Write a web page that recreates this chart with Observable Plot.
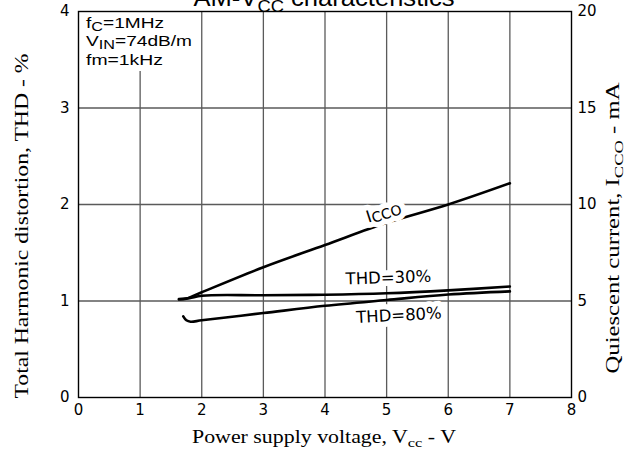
<!DOCTYPE html>
<html><head><meta charset="utf-8">
<script src="https://cdn.jsdelivr.net/npm/d3@7"></script>
<script src="https://cdn.jsdelivr.net/npm/@observablehq/plot@0.6"></script>
<style>html,body{margin:0;padding:0;background:#fff} svg{display:block}</style>
</head><body><div id="chart"></div>
<script>
const title = "AM-V_{CC} characteristics";
const xLabel = "Power supply voltage, V_{cc} - V";
const yLabelLeft = "Total Harmonic distortion, THD - %";
const yLabelRight = "Quiescent current, I_{CCO} - mA";
const notes = ["f_{C}=1MHz", "V_{IN}=74dB/m", "fm=1kHz"];
const xTicks = [0,1,2,3,4,5,6,7,8];
const yTicks = [0,1,2,3,4];
const rightTicks = [0,5,10,15,20];

// ICCO curve (mA, right axis)
const iccoV  = [1.63,1.75,1.85,2.0,3,4,5,6,7];
const iccoMA = [5.08,5.12,5.25,5.45,6.75,7.9,9.05,10.0,11.1];
// THD = 30% curve (%, left axis)
const thd30V = [1.63,1.8,2.0,3,4,5,6,7];
const thd30  = [1.02,1.03,1.055,1.06,1.065,1.08,1.11,1.15];
// THD = 80% curve (%, left axis)
const thd80V = [1.7,1.75,1.82,2.0,3,4,5,6,7];
const thd80  = [0.84,0.8,0.785,0.8,0.875,0.95,1.01,1.067,1.10];

const labelText = ["I_{CCO}","THD=30%","THD=80%"];
const labelX = [4.95,5.03,5.2];
const labelY = [1.92,1.24,0.85];
const labelRot = [-18,-2,-3];

const ratio = rightTicks[rightTicks.length-1] / yTicks[yTicks.length-1];
const icco = iccoV.map((v,i)=>({v, y: iccoMA[i]/ratio}));
const c30 = thd30V.map((v,i)=>({v, y: thd30[i]}));
const c80 = thd80V.map((v,i)=>({v, y: thd80[i]}));
const labels = labelText.map((t,i)=>({t, x: labelX[i], y: labelY[i], r: labelRot[i]}));

const gridStyle = {stroke:"#5a5a5a", strokeOpacity:1, strokeWidth:1.3};
const lineStyle = {x:"v", y:"y", curve:"catmull-rom", stroke:"#000", strokeWidth:2.6};
const labelStyle = {x:"x", y:"y", text:"t", rotate:"r", fontSize:16.5};

const plot = Plot.plot({
  width:630, height:452,
  marginLeft:78, marginRight:59, marginTop:11, marginBottom:55,
  x:{domain:[xTicks[0], xTicks[xTicks.length-1]]},
  y:{domain:[yTicks[0], yTicks[yTicks.length-1]]},
  style:{fontFamily:"'DejaVu Sans', sans-serif", fontSize:"15px", color:"#000", background:"#fff", overflow:"visible"},
  marks:[
    Plot.gridX(xTicks.slice(1,-1), gridStyle),
    Plot.gridY(yTicks.slice(1,-1), gridStyle),
    Plot.axisX(xTicks, {tickSize:0, tickPadding:7, label:null, fontSize:15, tickFormat: d => String(d)}),
    Plot.axisY(yTicks, {anchor:"left", tickSize:0, tickPadding:9, label:null, fontSize:15, tickFormat: d => String(d)}),
    Plot.axisY(yTicks, {anchor:"right", tickSize:0, tickPadding:6, label:null, fontSize:15,
      tickFormat: d => String(rightTicks[yTicks.indexOf(d)])}),
    Plot.line(icco, lineStyle),
    Plot.line(c30, lineStyle),
    Plot.line(c80, lineStyle),
    Plot.text(labels, {...labelStyle, fill:"#fff", stroke:"#fff", strokeWidth:11}),
    Plot.text(labels, {...labelStyle, fill:"#000"})
  ]
});
document.getElementById("chart").appendChild(plot);
const svg = d3.select(plot);

function rich(sel, str, subScale, shift) {
  sel.text(null);
  const parts = str.split(/(_\{[^}]*\})/).filter(p => p);
  let shifted = 0;
  parts.forEach(p => {
    if (p.startsWith("_{")) {
      sel.append("tspan").attr("font-size", subScale + "em").attr("dy", shift - shifted).text(p.slice(2,-1));
      shifted = shift;
    } else {
      const ts = sel.append("tspan").text(p);
      if (shifted) { ts.attr("dy", -shifted); shifted = 0; }
    }
  });
}

// Rich text for curve labels
svg.selectAll("text").each(function() {
  const s = this.textContent;
  if (s.includes("_{")) rich(d3.select(this), s, 0.85, 2);
});

// Notes (halo layer, then text layer)
const noteY = [28, 46, 65], noteW = [78, 106, 77];
["halo","text"].forEach(layer => {
  notes.forEach((n,i) => {
    const t = svg.append("text").attr("x", 86).attr("y", noteY[i]).attr("text-anchor","start")
      .attr("font-family","'Liberation Sans', Arial, sans-serif").attr("font-size", 15.5)
      .attr("fill", layer === "halo" ? "#fff" : "#000")
      .attr("textLength", noteW[i]).attr("lengthAdjust","spacingAndGlyphs");
    if (layer === "halo") t.attr("stroke","#fff").attr("stroke-width", 12);
    rich(t, n, 0.85, 2.5);
  });
});

// Frame on top of halos
const frame = Plot.plot({width:630, height:452, marginLeft:78, marginRight:59, marginTop:11, marginBottom:55,
  marks:[Plot.frame({stroke:"#000", strokeWidth:1.4})]});
svg.append(() => d3.select(frame).select("g[aria-label=frame]").node() || d3.select(frame).select("rect").node());

// Title
rich(svg.append("text").attr("x", 324).attr("y", 6).attr("text-anchor","middle")
  .attr("font-family","'Liberation Sans', Arial, sans-serif").attr("font-size", 24)
  .attr("textLength", 261).attr("lengthAdjust","spacingAndGlyphs"), title, 0.72, 6);

// Axis labels (serif)
rich(svg.append("text").attr("x", 324).attr("y", 443).attr("text-anchor","middle")
  .attr("font-family","'Liberation Serif', 'Times New Roman', serif").attr("font-size", 18)
  .attr("textLength", 264).attr("lengthAdjust","spacingAndGlyphs"), xLabel, 0.75, 4);
rich(svg.append("text").attr("transform","translate(28,226) rotate(-90)").attr("text-anchor","middle")
  .attr("font-family","'Liberation Serif', 'Times New Roman', serif").attr("font-size", 18)
  .attr("textLength", 345).attr("lengthAdjust","spacingAndGlyphs"), yLabelLeft, 0.75, 4);
rich(svg.append("text").attr("transform","translate(619,228) rotate(-90)").attr("text-anchor","middle")
  .attr("font-family","'Liberation Serif', 'Times New Roman', serif").attr("font-size", 18)
  .attr("textLength", 291).attr("lengthAdjust","spacingAndGlyphs"), yLabelRight, 0.75, 4);
</script>
</body></html>
